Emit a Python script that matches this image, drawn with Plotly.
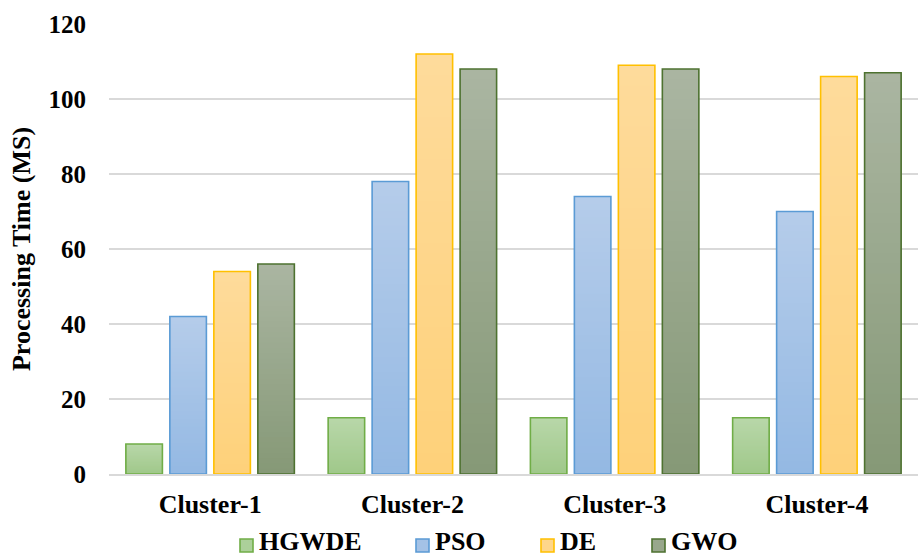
import plotly.graph_objects as go

clusters = ["Cluster-1", "Cluster-2", "Cluster-3", "Cluster-4"]
hgwde = [8, 15, 15, 15]
pso = [42, 78, 74, 70]
de = [54, 112, 109, 106]
gwo = [56, 108, 108, 107]

series = [
    # name, values, top colour, bottom colour, border
    ("HGWDE", hgwde, (184, 215, 169), (160, 200, 138), "#70ad47"),
    ("PSO", pso, (181, 204, 234), (148, 185, 227), "#5b9bd5"),
    ("DE", de, (254, 219, 155), (254, 209, 122), "#ffc000"),
    ("GWO", gwo, (170, 181, 161), (134, 153, 119), "#4e7230"),
]

# legend key positions (pixels from the left edge of the page)
legend_swatch_px = [240, 416, 541, 652]
legend_text_px = [258, 434, 559, 670]

W, H = 918, 558
M_L, M_R, M_T, M_B = 109, 0, 24, 84
PLOT_W = W - M_L - M_R
PLOT_H = H - M_T - M_B

N_STEPS = 40
group_w = 0.87
slot = group_w / 4
bar_w = slot * 0.83

FONT = "Liberation Serif"
SIZE = 26


def bold(size=SIZE):
    return dict(family=FONT, size=size, color="#000000", weight="bold")


def px_x(px):
    return (px - M_L) / PLOT_W


def px_y(py):
    return (H - M_B - py) / PLOT_H


fig = go.Figure()
shapes = []
annotations = []

for i, (name, vals, top, bot, border) in enumerate(series):
    off = -group_w / 2 + i * slot + (slot - bar_w) / 2
    # vertical gradient: stacked overlays from bottom (dark) to top (light)
    for k in range(N_STEPS):
        t = k / (N_STEPS - 1)
        c = tuple(round(bot[j] + (top[j] - bot[j]) * t) for j in range(3))
        frac = k / N_STEPS
        fig.add_trace(go.Bar(
            x=clusters,
            y=[v * (1 - frac) for v in vals],
            base=[v * frac for v in vals],
            offset=off, width=bar_w,
            marker=dict(color="rgb(%d,%d,%d)" % c, line=dict(width=0)),
            showlegend=False, hoverinfo="skip",
        ))
    # outline of each bar
    fig.add_trace(go.Bar(
        x=clusters, y=vals, offset=off, width=bar_w, name=name,
        marker=dict(color="rgba(0,0,0,0)", line=dict(color=border, width=1.6)),
        showlegend=False,
    ))
    # legend key: swatch + label
    mid = tuple(round((top[j] + bot[j]) / 2) for j in range(3))
    sx = legend_swatch_px[i]
    shapes.append(dict(
        type="rect", xref="paper", yref="paper", layer="above",
        x0=px_x(sx), x1=px_x(sx + 13), y0=px_y(552), y1=px_y(539),
        fillcolor="rgb(%d,%d,%d)" % mid, line=dict(color=border, width=1.6),
    ))
    annotations.append(dict(
        text=name, xref="paper", yref="paper",
        x=px_x(legend_text_px[i]), y=px_y(557),
        xanchor="left", yanchor="bottom", showarrow=False,
        font=bold(), borderpad=0,
    ))

fig.update_layout(
    width=W, height=H,
    barmode="overlay",
    plot_bgcolor="white", paper_bgcolor="white",
    margin=dict(l=M_L, r=M_R, t=M_T, b=M_B, autoexpand=False),
    font=dict(family=FONT, size=SIZE, color="#000000"),
    showlegend=False,
    shapes=shapes,
    annotations=annotations,
    xaxis=dict(
        type="category", range=[-0.5, 3.5], automargin=False,
        showgrid=False, showline=True, linecolor="#d9d9d9", linewidth=2,
        ticks="", tickfont=bold(),
        ticklabelstandoff=6,
    ),
    yaxis=dict(
        range=[0, 120], tickvals=[0, 20, 40, 60, 80, 100, 120], automargin=False,
        showgrid=True, gridcolor="#d9d9d9", gridwidth=1.5,
        zeroline=False, showline=False, ticks="",
        tickfont=bold(25),
        ticklabelstandoff=22,
        title=dict(text="Processing Time (MS)", standoff=10, font=bold()),
    ),
)

fig.write_html("out.html")
